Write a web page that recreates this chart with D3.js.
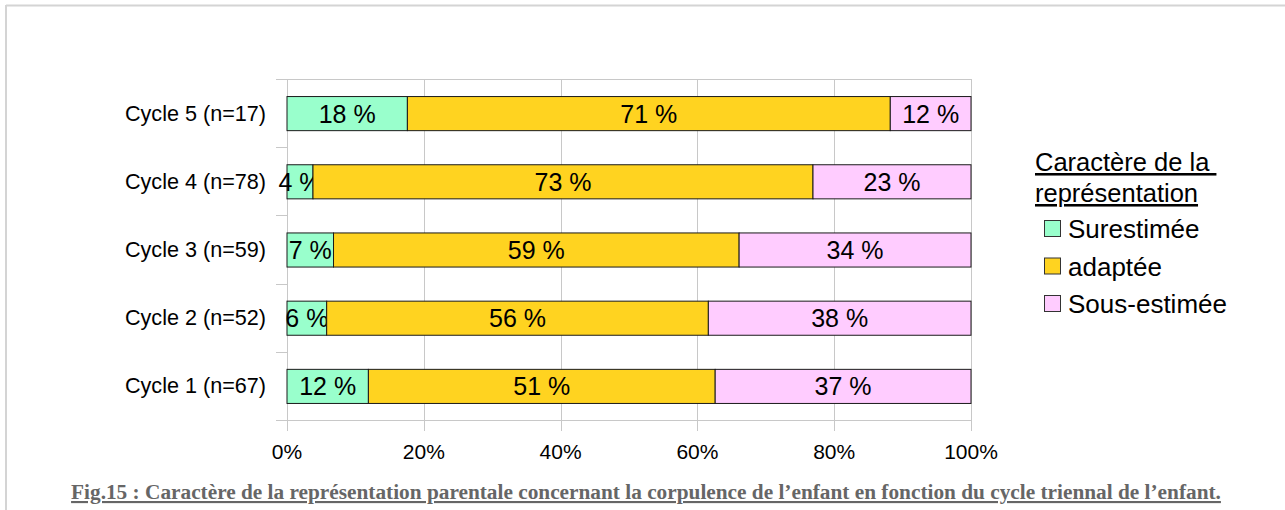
<!DOCTYPE html>
<html>
<head>
<meta charset="utf-8">
<script src="https://cdn.jsdelivr.net/npm/d3@7"></script>
<style>
  body { margin: 0; background: #fff; }
  text { font-family: "Liberation Sans", Arial, sans-serif; fill: #000; }
</style>
</head>
<body>
<div id="chart"></div>
<script>
const categories = ["Cycle 5 (n=17)", "Cycle 4 (n=78)", "Cycle 3 (n=59)", "Cycle 2 (n=52)", "Cycle 1 (n=67)"];
const series = ["Surestimée", "adaptée", "Sous-estimée"];
const surestimee = [17.6, 3.8, 6.8, 5.8, 11.9];
const adaptee = [70.6, 73.1, 59.3, 55.8, 50.7];
const sousEstimee = [11.8, 23.1, 33.9, 38.4, 37.4];
const labels = [
  ["18 %", "71 %", "12 %"],
  ["4 %", "73 %", "23 %"],
  ["7 %", "59 %", "34 %"],
  ["6 %", "56 %", "38 %"],
  ["12 %", "51 %", "37 %"]
];
const ticks = [0, 20, 40, 60, 80, 100];
const colors = ["#99ffcc", "#ffd320", "#ffccff"];
const legendTitle = ["Caractère de la ", "représentation"];
const caption = "Fig.15 : Caractère de la représentation parentale concernant la corpulence de l’enfant en fonction du cycle triennal de l’enfant.";

const width = 1285;
const height = 510;
const marginLeft = 287;
const plotRight = 971;
const plotTop = 79;
const plotBottom = 420;

const data = categories.map((c, i) => ({
  cat: c,
  values: [surestimee[i], adaptee[i], sousEstimee[i]],
  labels: labels[i]
}));

const svg = d3.select("#chart").append("svg")
    .attr("width", width)
    .attr("height", height);

// outer frame
svg.append("line").attr("x1", 6).attr("x2", width).attr("y1", 5.5).attr("y2", 5.5)
    .attr("stroke", "#d4d4d4").attr("stroke-width", 2);
svg.append("line").attr("x1", 6).attr("x2", 6).attr("y1", 5).attr("y2", height)
    .attr("stroke", "#d4d4d4").attr("stroke-width", 2);

const x = d3.scaleLinear()
    .domain([0, 100])
    .range([marginLeft, plotRight]);

const y = d3.scaleBand()
    .domain(categories)
    .range([plotTop, plotBottom])
    .paddingInner(0.5)
    .paddingOuter(0.25);

// vertical gridlines with tick marks below
svg.append("g")
  .selectAll("line")
  .data(ticks)
  .join("line")
    .attr("x1", d => Math.round(x(d)) + 0.5)
    .attr("x2", d => Math.round(x(d)) + 0.5)
    .attr("y1", plotTop)
    .attr("y2", plotBottom + 11)
    .attr("stroke", "#c8c8c8");

// top and bottom lines
[plotTop, plotBottom].forEach(v => {
  svg.append("line")
    .attr("x1", marginLeft - 11).attr("x2", plotRight)
    .attr("y1", v + 0.5).attr("y2", v + 0.5)
    .attr("stroke", "#c8c8c8");
});

// category boundary ticks
const step = y.step();
svg.append("g")
  .selectAll("line")
  .data(d3.range(1, categories.length))
  .join("line")
    .attr("x1", marginLeft - 11).attr("x2", marginLeft)
    .attr("y1", i => Math.round(plotTop + i * step) + 0.5)
    .attr("y2", i => Math.round(plotTop + i * step) + 0.5)
    .attr("stroke", "#c8c8c8");

// x tick labels
svg.append("g")
  .selectAll("text")
  .data(ticks)
  .join("text")
    .attr("x", d => x(d))
    .attr("y", 459)
    .attr("text-anchor", "middle")
    .attr("font-size", 21)
    .text(d => d + "%");

// category labels
svg.append("g")
  .selectAll("text")
  .data(categories)
  .join("text")
    .attr("x", 266)
    .attr("y", d => y(d) + y.bandwidth() / 2 + 7.5)
    .attr("text-anchor", "end")
    .attr("font-size", 21.6)
    .text(d => d);

// stacked bars
const rows = svg.append("g")
  .selectAll("g")
  .data(data)
  .join("g")
    .attr("transform", d => `translate(0,${y(d.cat)})`);

rows.each(function(d) {
  const g = d3.select(this);
  let acc = 0;
  d.values.forEach((v, j) => {
    const x0 = x(acc), x1 = x(acc + v);
    acc += v;
    g.append("rect")
      .attr("x", x0)
      .attr("y", 0.5)
      .attr("width", x1 - x0)
      .attr("height", y.bandwidth())
      .attr("fill", colors[j])
      .attr("stroke", "#1a1a1a")
      .attr("stroke-width", 1);
    g.append("text")
      .attr("x", (x0 + x1) / 2)
      .attr("y", y.bandwidth() / 2 + 9.5)
      .attr("text-anchor", "middle")
      .attr("font-size", 25)
      .text(d.labels[j]);
  });
});

// legend
const legend = svg.append("g");
legend.selectAll("text.title")
  .data(legendTitle)
  .join("text")
    .attr("class", "title")
    .attr("x", 1035)
    .attr("y", (d, i) => 171 + i * 31)
    .attr("font-size", 25.5)
    .attr("text-decoration", "underline")
    .attr("xml:space", "preserve")
    .style("white-space", "pre")
    .text(d => d);

const items = legend.selectAll("g.item")
  .data(series)
  .join("g")
    .attr("class", "item")
    .attr("transform", (d, i) => `translate(1044,${229 + i * 37.5})`);

items.append("rect")
    .attr("x", 0.5).attr("y", -8.5)
    .attr("width", 16).attr("height", 16)
    .attr("fill", (d, i) => colors[i])
    .attr("stroke", "#333");

items.append("text")
    .attr("x", 24)
    .attr("y", 9)
    .attr("font-size", 26)
    .text(d => d);

// caption
svg.append("text")
    .attr("x", 646)
    .attr("y", 499)
    .attr("text-anchor", "middle")
    .attr("font-size", 21.3)
    .attr("font-weight", "bold")
    .attr("text-decoration", "underline")
    .style("font-family", "'Liberation Serif', 'Times New Roman', serif")
    .style("fill", "#666")
    .text(caption);
</script>
</body>
</html>
